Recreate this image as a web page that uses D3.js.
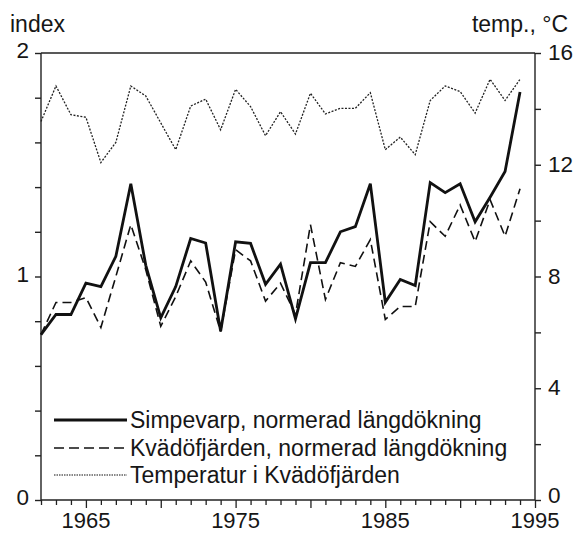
<!DOCTYPE html>
<html><head><meta charset="utf-8">
<script src="https://cdn.jsdelivr.net/npm/d3@7"></script>
<style>
html,body{margin:0;padding:0;background:#fff;}
text{font-family:"Liberation Sans",Arial,Helvetica,sans-serif;fill:#161616;}
</style></head>
<body><svg id="c" width="577" height="533"></svg>
<script>
const years = d3.range(1962, 1995);
const simpevarp = [0.74,0.83,0.83,0.97,0.955,1.09,1.415,1.05,0.815,0.955,1.17,1.15,0.755,1.155,1.148,0.965,1.055,0.81,1.062,1.062,1.20,1.223,1.415,0.885,0.987,0.96,1.42,1.375,1.415,1.245,1.355,1.47,1.826];
const kvadofjarden = [0.74,0.884,0.884,0.906,0.772,1.0,1.232,1.03,0.777,0.91,1.07,0.975,0.754,1.12,1.07,0.89,0.97,0.83,1.232,0.897,1.062,1.045,1.165,0.808,0.866,0.866,1.245,1.18,1.32,1.156,1.344,1.18,1.393];
const temperature = [13.55,14.82,13.79,13.7,12.08,12.8,14.82,14.46,13.5,12.54,14.1,14.35,13.25,14.7,14.08,13.04,13.9,13.1,14.56,13.82,14.02,14.02,14.58,12.54,12.99,12.36,14.3,14.82,14.62,13.85,15.06,14.3,15.06];
const xLabels = [1965, 1975, 1985, 1995];
const leftTicks = [0, 1, 2];
const rightTicks = [0, 4, 8, 12, 16];
const legendLabels = ["Simpevarp, normerad längdökning","Kvädöfjärden, normerad längdökning","Temperatur i Kvädöfjärden"];

const svg = d3.select("#c");
const L = 41, R = 535, T = 53, B = 500;
const x = d3.scaleLinear().domain([1962, 1995]).range([L, R]);
const yL = d3.scaleLinear().domain([0, 2]).range([B, T]);
const yR = d3.scaleLinear().domain([0, 16]).range([B, T]);
const FS = 22.5;

// frame top
svg.append("line").attr("x1", L).attr("x2", R).attr("y1", T).attr("y2", T)
  .attr("stroke", "#222").attr("stroke-width", 1.4);

// left axis
const la = svg.append("g").attr("transform", `translate(${L},0)`)
  .call(d3.axisLeft(yL).tickValues(d3.range(0, 2.01, 0.2)).tickSize(6).tickFormat(""));
la.selectAll("path,line").attr("stroke", "#222").attr("stroke-width", 1.4);
la.select(".domain").attr("d", `M0,${B}V${T}`);
leftTicks.forEach(v => svg.append("text").attr("x", 29).attr("y", yL(v) + 5).attr("text-anchor", "end").attr("font-size", FS).text(v));

// right axis
const ra = svg.append("g").attr("transform", `translate(${R},0)`)
  .call(d3.axisRight(yR).tickValues(d3.range(0, 16.1, 2)).tickSize(6).tickFormat(""));
ra.selectAll("path,line").attr("stroke", "#222").attr("stroke-width", 1.4);
ra.select(".domain").attr("d", `M0,${B}V${T}`);
rightTicks.forEach(v => svg.append("text").attr("x", 548).attr("y", yR(v) + (v === 0 ? 2.5 : 7)).attr("text-anchor", "start").attr("font-size", FS).text(v));

// bottom axis
const ba = svg.append("g").attr("transform", `translate(0,${B})`)
  .call(d3.axisBottom(x).tickValues(d3.range(1962, 1996)).tickSize(5).tickFormat(""));
ba.selectAll("path,line").attr("stroke", "#222").attr("stroke-width", 1.3);
ba.select(".domain").attr("d", `M${L},0H${R}`);
ba.selectAll(".tick line").attr("y2", d => d % 5 === 0 ? 8 : 5);
xLabels.forEach(v => svg.append("text").attr("x", x(v)).attr("y", 527.5).attr("text-anchor", "middle").attr("font-size", 22).text(v));

// axis titles
svg.append("text").attr("x", 10).attr("y", 32).attr("font-size", 23).text("index");
svg.append("text").attr("x", 568).attr("y", 32).attr("text-anchor", "end").attr("font-size", 23).text("temp., °C");

// series
const lineL = d3.line().x((d, i) => x(years[i])).y(d => yL(d));
const lineR = d3.line().x((d, i) => x(years[i])).y(d => yR(d));
svg.append("path").datum(temperature).attr("d", lineR).attr("fill", "none").attr("stroke", "#222").attr("stroke-width", 1.3).attr("stroke-dasharray", "2,1.5");
svg.append("path").datum(kvadofjarden).attr("d", lineL).attr("fill", "none").attr("stroke", "#111").attr("stroke-width", 1.6).attr("stroke-dasharray", "9,5");
svg.append("path").datum(simpevarp).attr("d", lineL).attr("fill", "none").attr("stroke", "#111").attr("stroke-width", 2.8).attr("stroke-linejoin", "miter");

// legend
const styles = [{w: 2.8, d: null}, {w: 1.6, d: "10,5"}, {w: 1.0, d: "1.5,1"}];
const ly = [420, 448, 475];
legendLabels.forEach((t, i) => {
  svg.append("line").attr("x1", 54).attr("x2", 127).attr("y1", ly[i]).attr("y2", ly[i])
    .attr("stroke", "#111").attr("stroke-width", styles[i].w).attr("stroke-dasharray", styles[i].d);
  svg.append("text").attr("x", 130).attr("y", ly[i] + 8).attr("font-size", 23).text(t);
});
</script></body></html>
